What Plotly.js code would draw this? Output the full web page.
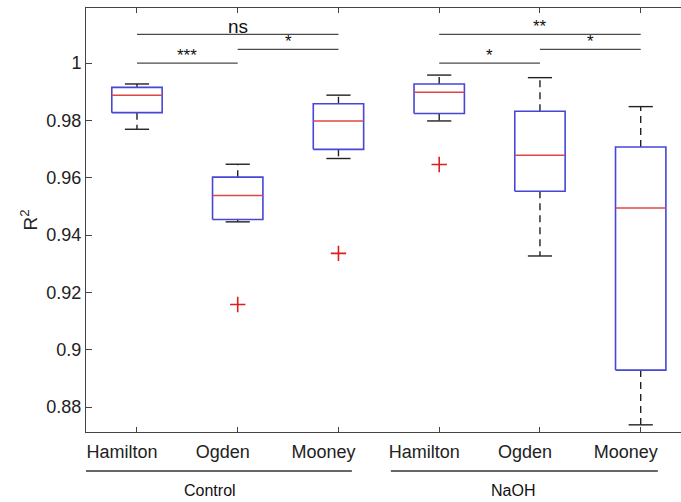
<!DOCTYPE html>
<html>
<head>
<meta charset="utf-8">
<script src="https://cdn.plot.ly/plotly-3.0.1.min.js"></script>
<style>html,body{margin:0;padding:0;background:#fff;}#chart{width:681px;height:502px;}</style>
</head>
<body>
<div id="chart"></div>
<script>
// ---- data ----
const categories = ['Hamilton', 'Ogden', 'Mooney', 'Hamilton', 'Ogden', 'Mooney'];
const positions = [1, 2, 3, 4, 5, 6];
const groupNames = ['Control', 'NaOH'];
const lowerWhisker = [0.9769, 0.9446, 0.9667, 0.9798, 0.9327, 0.8738];
const q1 = [0.9827, 0.9454, 0.9699, 0.9824, 0.9553, 0.8929];
const median = [0.9888, 0.9538, 0.9798, 0.9898, 0.9678, 0.9494];
const q3 = [0.9915, 0.9602, 0.9858, 0.9927, 0.9832, 0.9707];
const upperWhisker = [0.9927, 0.9647, 0.9888, 0.9958, 0.9949, 0.9848];
const outlierPos = [2, 3, 4];
const outlierVal = [0.9158, 0.9336, 0.9646];
const sigFrom = [1, 2, 1, 4, 5, 4];
const sigTo = [2, 3, 3, 5, 6, 6];
const sigLevel = [1.0, 1.0048, 1.01, 1.0, 1.0048, 1.01];
const sigLabel = ['***', '*', 'ns', '*', '*', '**'];
const yTickVals = [0.88, 0.9, 0.92, 0.94, 0.96, 0.98, 1];
const yTickText = ['0.88', '0.9', '0.92', '0.94', '0.96', '0.98', '1'];

// ---- build traces ----
const halfBox = 0.25, halfCap = 0.12;
const boxX = [], boxY = [], medX = [], medY = [], whX = [], whY = [], capX = [], capY = [];
positions.forEach((p, i) => {
  boxX.push(p - halfBox, p + halfBox, p + halfBox, p - halfBox, p - halfBox, null);
  boxY.push(q1[i], q1[i], q3[i], q3[i], q1[i], null);
  medX.push(p - halfBox, p + halfBox, null);
  medY.push(median[i], median[i], null);
  whX.push(p, p, null, p, p, null);
  whY.push(q3[i], upperWhisker[i], null, q1[i], lowerWhisker[i], null);
  capX.push(p - halfCap, p + halfCap, null, p - halfCap, p + halfCap, null);
  capY.push(upperWhisker[i], upperWhisker[i], null, lowerWhisker[i], lowerWhisker[i], null);
});
const sigX = [], sigY = [];
sigFrom.forEach((f, i) => { sigX.push(f, sigTo[i], null); sigY.push(sigLevel[i], sigLevel[i], null); });

const traces = [
  {x: sigX, y: sigY, mode: 'lines', line: {color: '#4a4a4a', width: 1.3}, hoverinfo: 'skip'},
  {x: whX, y: whY, mode: 'lines', line: {color: '#222', width: 1.4, dash: '7px,5px'}, hoverinfo: 'skip'},
  {x: capX, y: capY, mode: 'lines', line: {color: '#222', width: 1.4}, hoverinfo: 'skip'},
  {x: boxX, y: boxY, mode: 'lines', line: {color: 'rgb(70,70,215)', width: 1.6}, hoverinfo: 'skip'},
  {x: medX, y: medY, mode: 'lines', line: {color: 'rgb(225,70,70)', width: 1.5}, hoverinfo: 'skip'},
  {x: outlierPos, y: outlierVal, mode: 'markers',
   marker: {symbol: 'cross-thin', size: 11, color: 'rgb(220,30,30)', line: {color: 'rgb(220,30,30)', width: 1.6}},
   hoverinfo: 'skip'}
];

const font = 'Liberation Sans, Arial, Helvetica, sans-serif';
const annotations = sigLabel.map((t, i) => ({
  x: (sigFrom[i] + sigTo[i]) / 2, y: sigLevel[i], xref: 'x', yref: 'y',
  text: t, showarrow: false, xanchor: 'center', yanchor: 'bottom',
  yshift: t === 'ns' ? -5 : -4,
  font: {family: font, size: t === 'ns' ? 19 : 17, color: '#111'}
}));
// group labels under the category labels
const groupCenter = [1.725, 4.73];
groupNames.forEach((g, i) => {
  annotations.push({x: groupCenter[i], y: -0.139, xref: 'x', yref: 'paper', text: g,
    showarrow: false, xanchor: 'center', yanchor: 'middle', font: {family: font, size: 16, color: '#111'}});
});
const groupSpan = [[0.484, 3.133], [3.52, 6.17]];
const shapes = groupSpan.map(s => ({type: 'line', xref: 'x', yref: 'paper', x0: s[0], x1: s[1],
  y0: -0.092, y1: -0.092, line: {color: '#333', width: 1.3}}));

const layout = {
  width: 681, height: 502,
  margin: {l: 86, r: 0, t: 8, b: 70, pad: 0},
  paper_bgcolor: '#fff', plot_bgcolor: '#fff',
  showlegend: false,
  font: {family: font, size: 18, color: '#222'},
  xaxis: {
    range: [0.494, 6.4], tickmode: 'array', tickvals: positions, ticktext: categories,
    ticks: 'inside', ticklen: 5, tickcolor: '#444', tickwidth: 1,
    showline: true, linecolor: '#444', linewidth: 1, mirror: 'ticks',
    showgrid: false, zeroline: false, automargin: false,
    ticklabelshift: -15, ticklabelstandoff: 3,
    tickfont: {family: font, size: 18, color: '#222'}
  },
  yaxis: {
    range: [0.8713, 1.0192], tickmode: 'array', tickvals: yTickVals, ticktext: yTickText,
    ticks: 'inside', ticklen: 6, tickcolor: '#444', tickwidth: 1,
    showline: true, linecolor: '#444', linewidth: 1, mirror: false,
    showgrid: false, zeroline: false, automargin: false,
    tickfont: {family: font, size: 18, color: '#222'},
    title: {text: 'R<sup>2</sup>', font: {family: font, size: 19, color: '#222'}, standoff: 3}
  },
  annotations: annotations,
  shapes: shapes
};

Plotly.newPlot('chart', traces, layout, {staticPlot: true, displayModeBar: false});
</script>
</body>
</html>
